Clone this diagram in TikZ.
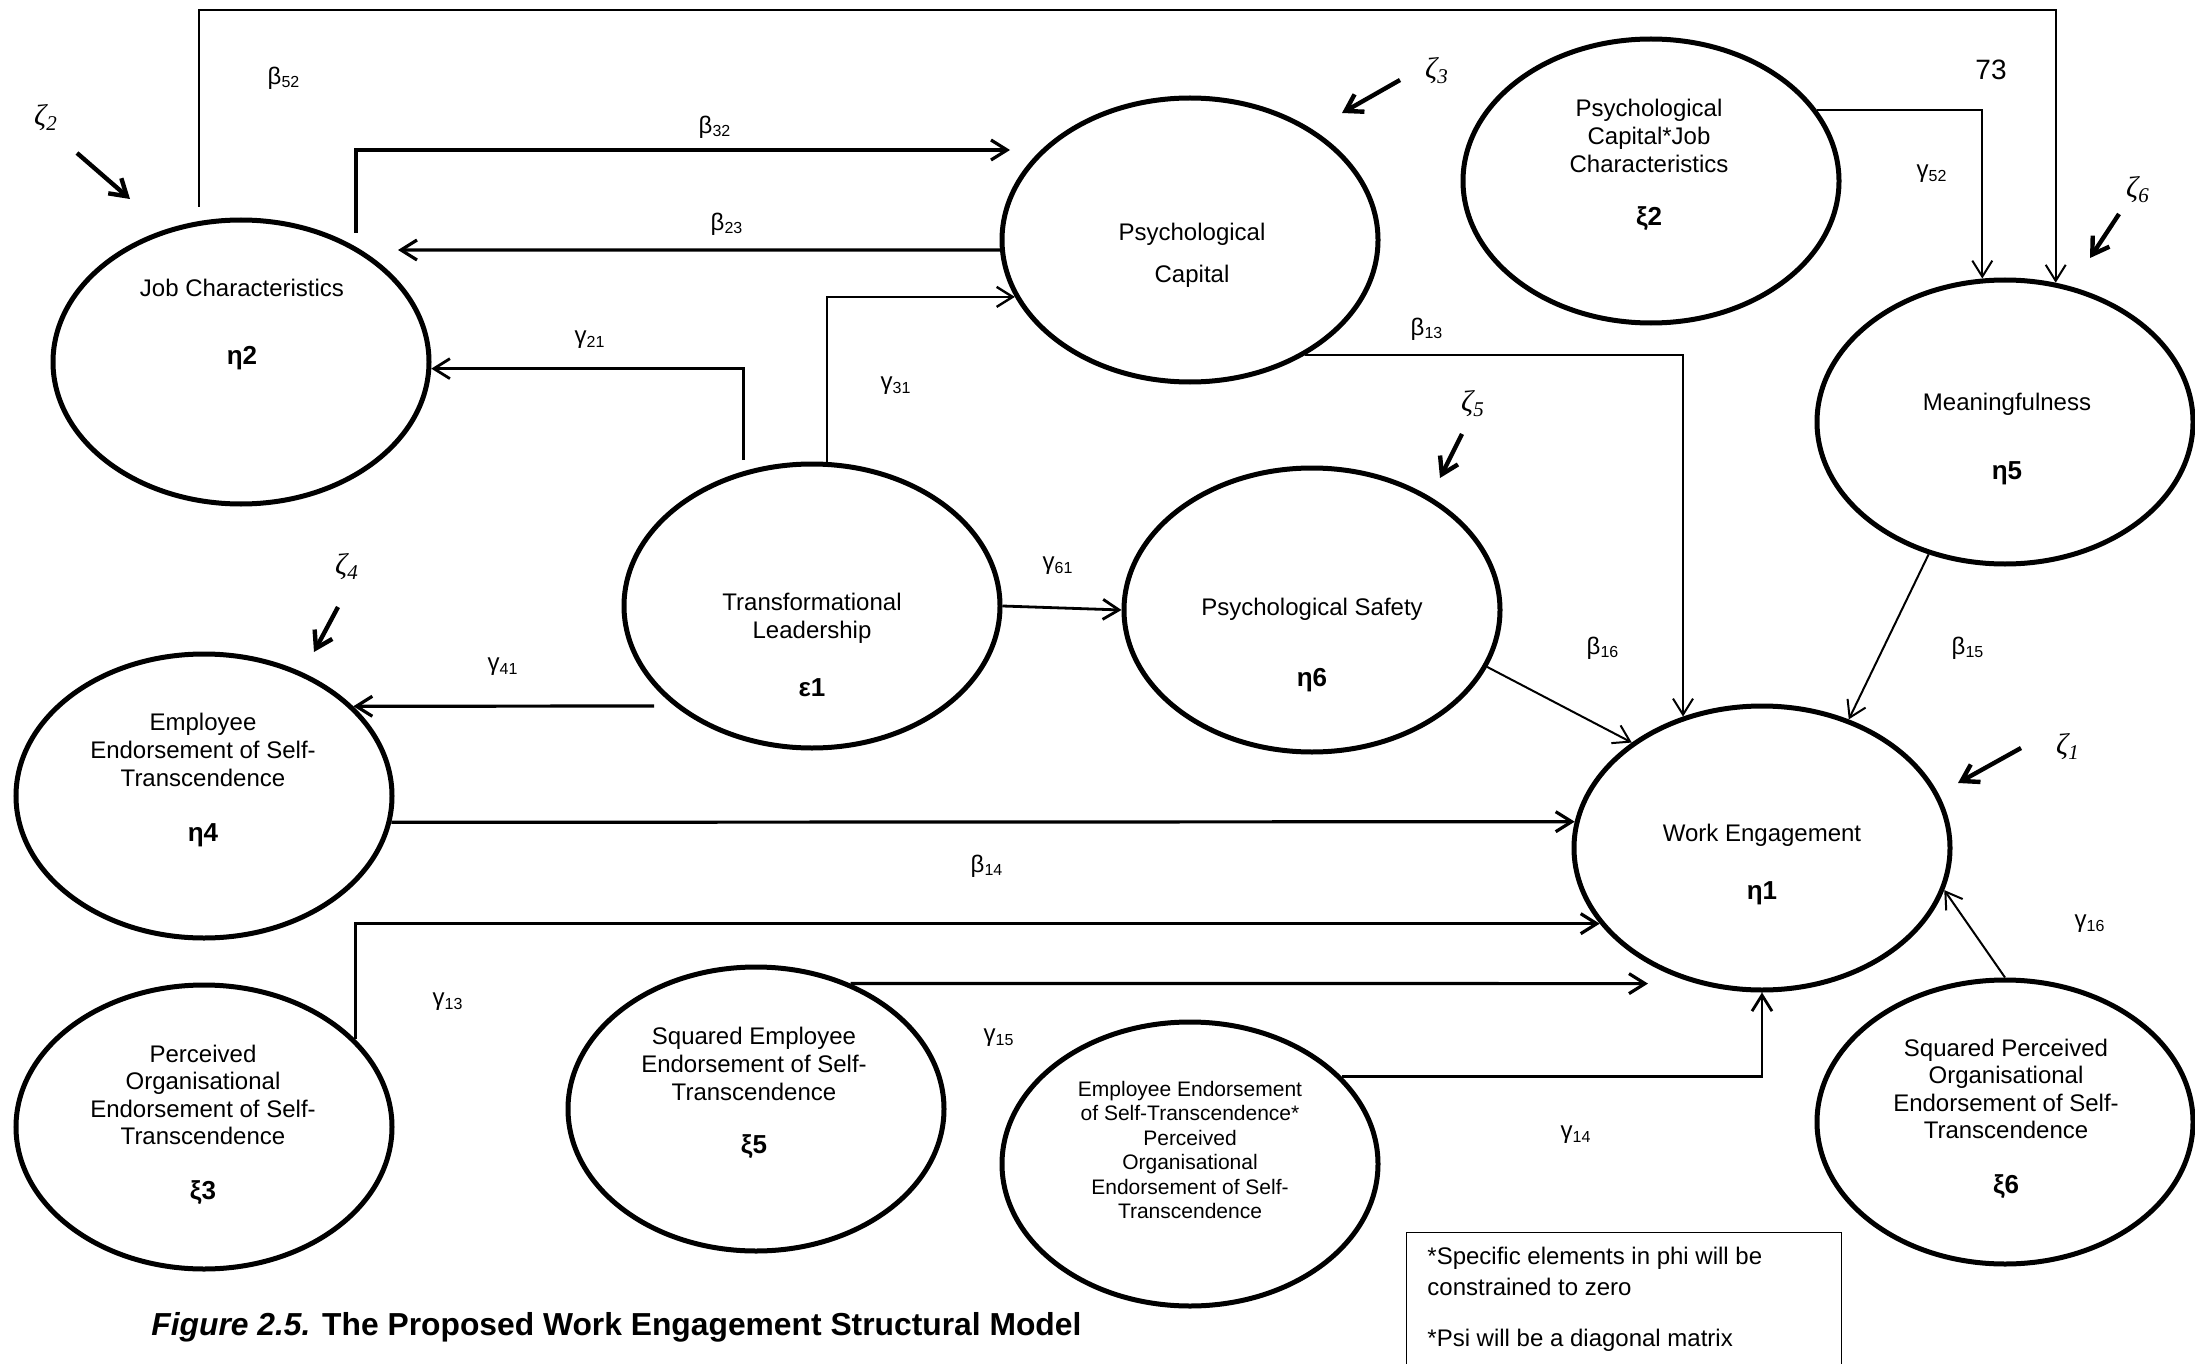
\documentclass[tikz,border=0pt]{standalone}
\usepackage{fontspec}
\setmainfont{Liberation Sans}
\newfontfamily\zetafont{Liberation Serif}
\usetikzlibrary{shapes.geometric,arrows.meta,calc}

\begin{document}
\begin{tikzpicture}[x=0.5pt,y=-0.5pt,
  latent/.style={ellipse,draw,line width=2.5pt,minimum width=188pt,minimum height=142pt,inner sep=0pt},
  txt/.style={align=center,font=\fontsize{12}{13.8}\selectfont,inner sep=0pt},
  smalltxt/.style={align=center,font=\fontsize{10.5}{12.2}\selectfont,inner sep=0pt},
  sym/.style={font=\fontsize{13}{15}\selectfont\bfseries,inner sep=0pt},
  coef/.style={font=\fontsize{12}{14}\selectfont,inner sep=0pt},
  zlab/.style={font=\fontsize{15}{17}\selectfont\zetafont\itshape,inner sep=0pt},
  notetxt/.style={anchor=west,font=\fontsize{12}{14}\selectfont,inner sep=0pt},
  link/.style={line width=1pt,-{Straight Barb[length=8pt,width=10pt]}},
  boldlink/.style={link,line width=1.6pt},
  disturb/.style={line width=2.2pt,-{Straight Barb[length=8pt,width=10pt]}},
]
% canvas
\path[fill=white,use as bounding box] (0,0) rectangle (2195,1364);

% ---------- latent variables ----------
\node[latent] (jc)   at (241,362)  {};
\node[latent] (pc)   at (1190,240) {};
\node[latent] (pcjc) at (1651,181) {};
\node[latent] (mf)   at (2005,422) {};
\node[latent] (tl)   at (812,606)  {};
\node[latent] (ps)   at (1312,610) {};
\node[latent] (ee)   at (204,796)  {};
\node[latent] (we)   at (1762,848) {};
\node[latent] (poe)  at (204,1127) {};
\node[latent] (see)  at (756,1109) {};
\node[latent] (prod) at (1190,1164) {};
\node[latent] (spoe) at (2005,1122) {};

% ---------- names and symbols ----------
\node[txt] (jc-t) at (242,288) {Job Characteristics};
\node[sym] (jc-s) at (242,358) {η2};
\node[txt] (pc-t) at (1192,255) {Psychological\\[7pt]Capital};
\node[txt] (pcjc-t) at (1649,136) {Psychological\\Capital*Job\\Characteristics};
\node[sym] (pcjc-s) at (1649,219) {ξ2};
\node[txt] (mf-t) at (2007,404) {Meaningfulness};
\node[sym] (mf-s) at (2007,473) {η5};
\node[txt] (tl-t) at (812,618) {Transformational\\Leadership};
\node[sym] (tl-s) at (812,688) {ε1};
\node[txt] (ps-t) at (1312,609) {Psychological Safety};
\node[sym] (ps-s) at (1312,680) {η6};
\node[txt] (ee-t) at (203,750) {Employee\\Endorsement of Self-\\Transcendence};
\node[sym] (ee-s) at (203,835) {η4};
\node[txt] (we-t) at (1762,835) {Work Engagement};
\node[sym] (we-s) at (1762,893) {η1};
\node[txt] (poe-t) at (203,1095) {Perceived\\Organisational\\Endorsement of Self-\\Transcendence};
\node[sym] (poe-s) at (203,1193) {ξ3};
\node[txt] (see-t) at (754,1064) {Squared Employee\\Endorsement of Self-\\Transcendence};
\node[sym] (see-s) at (754,1147) {ξ5};
\node[smalltxt] (prod-t) at (1190,1150) {Employee Endorsement\\of Self-Transcendence*\\Perceived\\Organisational\\Endorsement of Self-\\Transcendence};
\node[txt] (spoe-t) at (2006,1089) {Squared Perceived\\Organisational\\Endorsement of Self-\\Transcendence};
\node[sym] (spoe-s) at (2006,1187) {ξ6};

% ---------- free ends of paths ----------
\coordinate (topy) at (0,10);
\coordinate (b52s) at (198.5,207);
\coordinate (b32s) at (356,233);
\coordinate (b32e) at (1010,150);
\coordinate (b23e) at (398,250);
\coordinate (g21s) at (743.6,460);
\coordinate (g41s) at (654,706);
\coordinate (g15e) at (1648,983.6);

% ---------- structural paths ----------
\draw[link] (b52s) |- (topy -| mf.70) -- (mf.70);
\draw[boldlink] (b32s) |- (b32e);
\draw[boldlink] (pc.183) -- (b23e);
\draw[link,line width=1.4pt] (g21s) |- (jc.-2);
\draw[link,line width=1.2pt] (tl.84) |- (pc.198);
\draw[boldlink] (g41s) -- (ee.31);
\draw[link,line width=1.4pt] (tl.east) -- (ps.west);
\draw[link] (pc.-45) -| (we.121);
\draw[link] (ps.-18) -- (we.141);
\draw[link] (mf.240) -- (we.56);
\draw[link] (pcjc.23) -| (mf.99);
\draw[boldlink] (ee.-8) -- (we.172);
\draw[boldlink] (poe.30) |- (we.205);
\draw[boldlink] (see.53) -- (g15e);
\draw[link,line width=1.4pt] (prod.30) -| (we.south);
\draw[link] (spoe.north) -- (we.-13);

% ---------- path coefficients ----------
\node[coef] (l-b52) at (284,78)   {β\textsubscript{52}};
\node[coef] (l-b32) at (715,127)  {β\textsubscript{32}};
\node[coef] (l-b23) at (727,224)  {β\textsubscript{23}};
\node[coef] (l-g21) at (590,340)  {γ\textsubscript{21}};
\node[coef] (l-g31) at (896,386)  {γ\textsubscript{31}};
\node[coef] (l-g41) at (503,667)  {γ\textsubscript{41}};
\node[coef] (l-g61) at (1058,566) {γ\textsubscript{61}};
\node[coef] (l-b13) at (1427,329) {β\textsubscript{13}};
\node[coef] (l-g52) at (1932,174) {γ\textsubscript{52}};
\node[coef] (l-b16) at (1603,648) {β\textsubscript{16}};
\node[coef] (l-b15) at (1968,648) {β\textsubscript{15}};
\node[coef] (l-b14) at (987,866)  {β\textsubscript{14}};
\node[coef] (l-g13) at (448,1002) {γ\textsubscript{13}};
\node[coef] (l-g15) at (999,1038) {γ\textsubscript{15}};
\node[coef] (l-g14) at (1576,1135){γ\textsubscript{14}};
\node[coef] (l-g16) at (2090,924) {γ\textsubscript{16}};
\node[font=\fontsize{14}{16}\selectfont,inner sep=0pt] (n73) at (1991,70) {73};

% ---------- disturbances ----------
\coordinate (z2s) at (77,153);   \coordinate (z2e) at (130,199);
\coordinate (z3s) at (1400,80);  \coordinate (z3e) at (1342,113);
\coordinate (z4s) at (338,607);  \coordinate (z4e) at (314,652);
\coordinate (z5s) at (1462,434); \coordinate (z5e) at (1440,478);
\coordinate (z6s) at (2119,214); \coordinate (z6e) at (2090,258);
\coordinate (z1s) at (2021,748); \coordinate (z1e) at (1958,783);
\draw[disturb] (z2s) -- (z2e);
\draw[disturb] (z3s) -- (z3e);
\draw[disturb] (z4s) -- (z4e);
\draw[disturb] (z5s) -- (z5e);
\draw[disturb] (z6s) -- (z6e);
\draw[disturb] (z1s) -- (z1e);
\node[zlab] (zeta2) at (46,118)   {ζ\textsubscript{2}};
\node[zlab] (zeta3) at (1437,71)  {ζ\textsubscript{3}};
\node[zlab] (zeta4) at (347,567)  {ζ\textsubscript{4}};
\node[zlab] (zeta5) at (1473,404) {ζ\textsubscript{5}};
\node[zlab] (zeta6) at (2138,190) {ζ\textsubscript{6}};
\node[zlab] (zeta1) at (2068,747) {ζ\textsubscript{1}};

% ---------- note and caption ----------
\node[draw,line width=0.6pt,anchor=north west,minimum width=217.5pt,minimum height=80pt,inner sep=0pt] (note) at (1406,1232) {};
\node[notetxt] (note1) at (1427,1258) {*Specific elements in phi will be};
\node[notetxt] (note2) at (1427,1287) {constrained to zero};
\node[notetxt] (note3) at (1427,1340) {*Psi will be a diagonal matrix};

\node[anchor=west,font=\fontsize{15.9}{18}\selectfont\bfseries,inner sep=0pt] (caption) at (151,1327)
  {\textit{Figure 2.5.} The Proposed Work Engagement Structural Model};
\end{tikzpicture}
\end{document}
